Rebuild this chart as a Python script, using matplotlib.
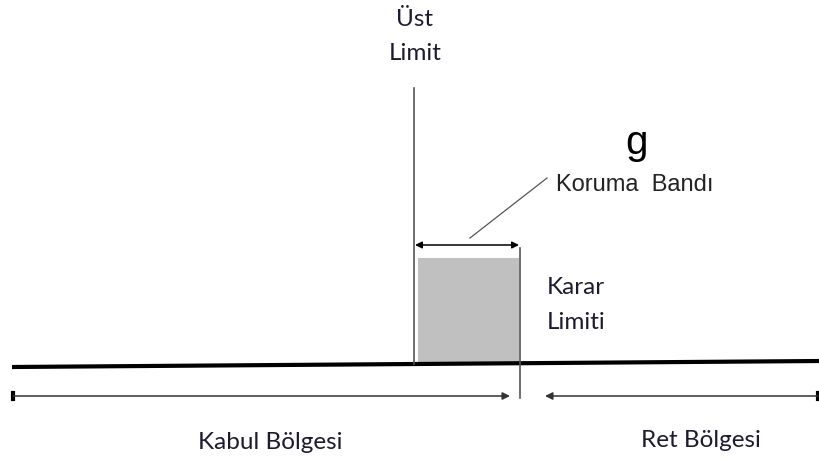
import matplotlib.pyplot as plt
from matplotlib.patches import Rectangle

# DIAGRAM VALUES (pixel scale of the drawing)
UPPER_LIMIT = 414
DECISION_LIMIT = 520
BAND_TOP = 258
BASE_Y = 364
labels_top = ["Üst", "Limit"]
labels_decision = ["Karar", "Limiti"]
zone_labels = ["Kabul Bölgesi", "Ret Bölgesi"]

fig = plt.figure(figsize=(8.2, 4.61), dpi=100)
ax = fig.add_axes([0, 0, 1, 1])
ax.set_xlim(0, 820)
ax.set_ylim(461, 0)
ax.axis('off')

# guard band
ax.add_patch(Rectangle((UPPER_LIMIT + 4, BAND_TOP), DECISION_LIMIT - UPPER_LIMIT - 5,
                       BASE_Y - BAND_TOP, color='#c0c0c0', lw=0))

# baseline
ax.plot([12, 820], [367, 361], color='black', lw=3, solid_capstyle='butt')

# limit lines
ax.plot([UPPER_LIMIT, UPPER_LIMIT], [88, BASE_Y], color='#555555', lw=1.2)
ax.plot([DECISION_LIMIT, DECISION_LIMIT], [248, 398], color='#555555', lw=1.2)

# band width arrow
ax.annotate('', xy=(DECISION_LIMIT - 1, 245), xytext=(UPPER_LIMIT + 1, 245),
            arrowprops=dict(arrowstyle='<|-|>', color='black', lw=1.1,
                            mutation_scale=10, shrinkA=0, shrinkB=0))
ax.plot([470, 547], [238, 178], color='#555555', lw=0.9)

# zone arrows
ax.annotate('', xy=(510, 396), xytext=(13, 396),
            arrowprops=dict(arrowstyle='-|>', color='#333333', lw=1.1,
                            mutation_scale=11, shrinkA=0, shrinkB=0))
ax.plot([13, 13], [393, 399], color='black', lw=3)
ax.annotate('', xy=(545, 396), xytext=(818, 396),
            arrowprops=dict(arrowstyle='-|>', color='#333333', lw=1.1,
                            mutation_scale=11, shrinkA=0, shrinkB=0))
ax.plot([818, 818], [393, 399], color='black', lw=3)

# texts
tc = '#1f1a2e'
fs = 17.5
ax.text(UPPER_LIMIT + 1, 20, labels_top[0], ha='center', va='center', fontsize=fs, family='Lato', color=tc)
ax.text(UPPER_LIMIT + 1, 53, labels_top[1], ha='center', va='center', fontsize=fs, family='Lato', color=tc)
ax.text(547, 287, labels_decision[0], ha='left', va='center', fontsize=fs, family='Lato', color=tc)
ax.text(547, 322, labels_decision[1], ha='left', va='center', fontsize=fs, family='Lato', color=tc)
ax.text(637, 143, 'g', ha='center', va='center', fontsize=29, family='Liberation Sans', color='black')
ax.text(556, 185, 'Koruma  Bandı', ha='left', va='center', fontsize=17, family='Liberation Sans', color='#222222')
ax.text(270, 442, zone_labels[0], ha='center', va='center', fontsize=fs, family='Lato', color=tc)
ax.text(701, 440, zone_labels[1], ha='center', va='center', fontsize=fs, family='Lato', color=tc)

fig.savefig('out.png', dpi=100)
